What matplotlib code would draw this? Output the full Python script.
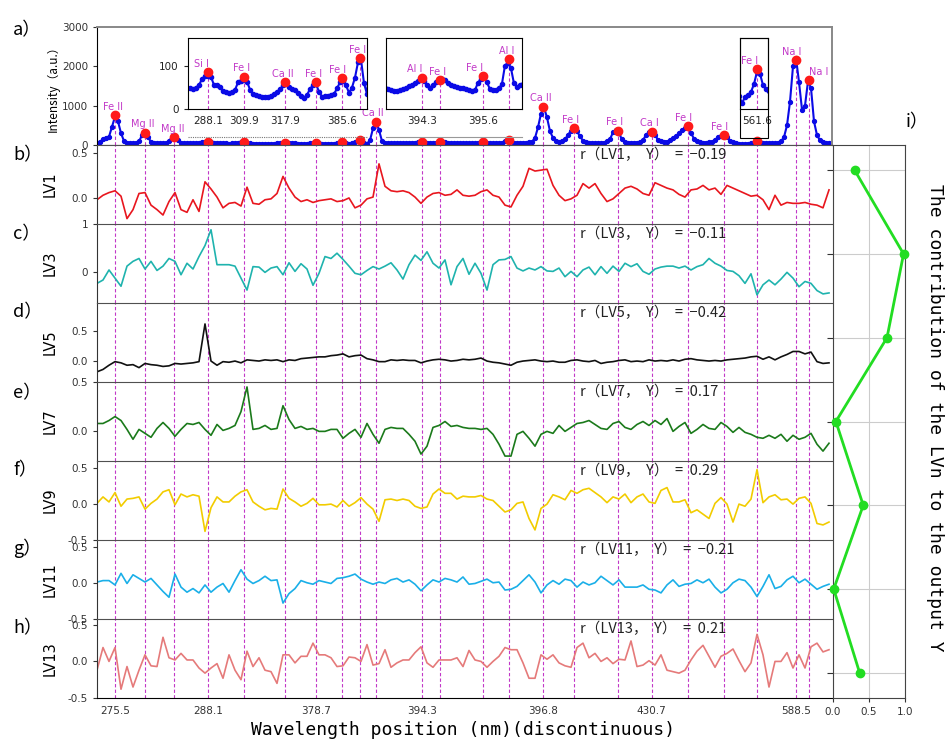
import numpy as np
import matplotlib
matplotlib.use("Agg")
import matplotlib.pyplot as plt
from matplotlib.lines import Line2D
from matplotlib.patches import Rectangle

# LIBS spectrum, one value per channel (x axis is a discontinuous wavelength index)
spectrum = [
    60, 80, 150, 190, 210, 470, 720, 600, 300, 100,
    60, 45, 42, 45, 90, 250, 330, 200, 80, 50,
    42, 40, 40, 45, 110, 190, 200, 120, 60, 45,
    50, 48, 46, 50, 56, 70, 76, 77, 74, 55,
    56, 52, 42, 39, 37, 40, 45, 62, 66, 67,
    63, 45, 36, 33, 30, 29, 29, 29, 31, 34,
    40, 46, 55, 60, 52, 47, 44, 37, 31, 26,
    33, 47, 55, 58, 40, 29, 30, 31, 33, 35,
    48, 62, 66, 55, 38, 50, 73, 108, 114, 60,
    35, 120, 420, 610, 380, 100, 50, 46, 44, 42,
    43, 44, 46, 49, 53, 56, 60, 64, 72, 64,
    56, 50, 55, 63, 67, 69, 68, 60, 56, 54,
    52, 50, 48, 46, 44, 42, 44, 61, 70, 74,
    62, 46, 45, 45, 48, 58, 100, 107, 95, 60,
    52, 56, 59, 60, 65, 85, 180, 450, 800, 950,
    700, 350, 180, 110, 85, 90, 140, 260, 360, 420,
    350, 220, 110, 70, 60, 55, 55, 55, 58, 60,
    90, 150, 320, 375, 300, 140, 80, 60, 58, 58,
    60, 80, 120, 260, 330, 335, 260, 130, 100, 88,
    85, 120, 170, 230, 300, 380, 440, 470, 300, 160,
    90, 70, 62, 60, 65, 80, 130, 200, 240, 250,
    200, 110, 70, 45, 30, 14, 29, 32, 40, 58,
    86, 82, 56, 46, 42, 40, 45, 60, 90, 200,
    500, 1100, 2000, 2210, 1600, 900, 1000, 1620, 1450, 600,
    250, 120, 70, 55, 45, 40,
]

# identified lines: channel, intensity, element
peak_pos = [6.0, 16.1, 25.7, 36.9, 48.9, 62.6, 73.0, 81.6, 87.7, 92.9, 108.3, 114.3,
            128.8, 137.4, 148.6, 159.1, 173.6, 184.9, 196.9, 209.0, 219.9, 233.0, 237.2]
peak_int = [760, 313, 195, 86, 75, 62, 63, 71, 117, 592, 73, 67,
            76, 115, 973, 424, 364, 339, 483, 254, 92, 2161, 1653]
peak_name = ["Fe II", "Mg II", "Mg II", "Si I", "Fe I", "Ca II", "Fe I", "Fe I", "Fe I",
             "Ca II", "Al I", "Fe I", "Fe I", "Al I", "Ca II", "Fe I", "Fe I", "Ca I",
             "Fe I", "Fe I", "Fe I", "Na I", "Na I"]
label_dx = [-1.5, -1.5, -1, -4.5, -1.5, -1.5, -2, -3, -2, -2, -5, -2,
            -6, -2, -1.5, -3, -2, -2, -3, -3, -5, -3, 7]

xtick_pos = [6.0, 36.9, 73.0, 108.3, 148.6, 184.9, 233.0]
xtick_lab = ["275.5", "288.1", "378.7", "394.3", "396.8", "430.7", "588.5"]

inset_ranges = [(30.2, 90.1), (96.2, 141.8), (214.3, 223.6)]
inset_ticks = [[36.9, 48.9, 62.6, 81.6], [108.3, 128.8], [219.9]]
inset_labels = [["288.1", "309.9", "317.9", "385.6"], ["394.3", "395.6"], ["561.6"]]

# latent variable loadings, every 2nd channel
lv1 = [-0.02, 0.03, 0.06, 0.08, 0.02, -0.23, -0.13, 0.05, 0.06, -0.08,
       -0.13, -0.19, -0.04, 0.06, -0.13, -0.16, -0.02, -0.15, 0.18, 0.10,
       0.01, -0.11, -0.06, -0.05, -0.09, 0.12, -0.06, -0.07, -0.02, -0.01,
       0.05, 0.24, 0.11, 0.01, -0.04, -0.02, -0.05, -0.03, -0.02, -0.01,
       -0.04, -0.03, 0.0, -0.11, -0.08, -0.01, 0.01, 0.38, 0.13, 0.08,
       0.07, 0.08, 0.06, 0.01, -0.06, 0.01, 0.05, 0.06, 0.03, 0.04,
       0.09, 0.03, 0.02, 0.03, 0.07, 0.09, 0.03, 0.01, -0.08, -0.10,
       0.03, 0.13, 0.33, 0.30, 0.31, 0.32, 0.14, 0.03, -0.03, -0.01,
       0.03, 0.16, 0.11, 0.16, 0.05, -0.04, -0.01, 0.05, 0.11, 0.13,
       0.10, 0.05, 0.03, 0.17, 0.14, 0.11, 0.09, 0.04, 0.01, 0.09,
       0.10, 0.14, 0.09, 0.11, 0.04, 0.14, 0.11, 0.08, 0.05, 0.02,
       0.03, -0.02, -0.13, 0.03, -0.08, -0.05, -0.06, -0.06, -0.05, -0.07,
       -0.08, -0.11, 0.09]
lv3 = [-0.24, -0.17, 0.04, -0.13, -0.30, 0.12, 0.22, 0.28, 0.06, 0.22,
       0.03, 0.12, 0.28, 0.22, -0.06, 0.18, 0.06, 0.32, 0.55, 0.88,
       0.15, 0.15, 0.15, 0.12, -0.13, -0.38, 0.11, 0.10, -0.01, 0.08,
       0.11, -0.06, 0.19, 0.01, 0.17, 0.06, -0.28, -0.03, 0.32, 0.28,
       0.39, 0.26, 0.12, -0.03, -0.06, 0.03, 0.11, 0.06, 0.12, 0.19,
       0.04, -0.15, 0.15, 0.35, 0.24, 0.42, 0.18, 0.08, 0.25, -0.27,
       0.11, 0.28, -0.05, 0.18, -0.03, -0.38, 0.15, 0.25, 0.26, 0.32,
       0.08, 0.02, 0.08, 0.04, 0.11, 0.02, 0.01, 0.08, -0.10, 0.01,
       -0.10, 0.04, 0.10, -0.06, 0.11, -0.03, 0.12, 0.01, 0.18, 0.11,
       0.17, 0.01, -0.05, 0.06, 0.10, 0.12, 0.12, 0.08, 0.12, 0.04,
       0.11, 0.15, 0.28, 0.18, 0.12, 0.03, 0.01, -0.08, -0.24, -0.04,
       -0.48, -0.27, -0.17, -0.27, -0.15, -0.01, -0.13, -0.31, -0.20, -0.24,
       -0.39, -0.46, -0.44]
lv5 = [-0.18, -0.14, -0.07, -0.01, -0.03, -0.07, -0.06, -0.11, -0.04, -0.06,
       -0.07, -0.09, -0.08, -0.04, -0.05, -0.04, -0.03, -0.01, 0.62, 0.0,
       -0.07, -0.01, -0.02, 0.0, -0.03, 0.02, 0.01, 0.0, 0.02, 0.01,
       0.02, -0.01, 0.02, 0.01, 0.04, 0.05, 0.06, 0.07, 0.07, 0.09,
       0.10, 0.12, 0.07, 0.09, 0.10, 0.04, 0.02, -0.01, -0.01, 0.02,
       0.01, 0.02, 0.01, 0.01, -0.03, 0.0, 0.02, 0.03, 0.02, 0.0,
       0.01, 0.03, 0.02, 0.03, 0.05, 0.0, -0.02, -0.03, -0.05, -0.07,
       -0.02, 0.0, 0.01, 0.02, 0.0, -0.01, 0.0, -0.02, -0.02, 0.01,
       0.02, 0.0, -0.01, 0.01, -0.04, -0.02, -0.01, 0.01, 0.02, -0.01,
       0.0, -0.01, 0.02, 0.0, 0.01, 0.0, 0.02, 0.0, 0.03, 0.04,
       0.02, 0.01, 0.0, 0.01, 0.0, 0.02, 0.03, 0.04, 0.05, 0.07,
       0.08, 0.03, 0.07, 0.02, 0.07, 0.11, 0.16, 0.16, 0.12, 0.15,
       -0.01, -0.04, -0.03]
lv7 = [0.08, 0.08, 0.11, 0.15, 0.11, 0.02, -0.08, 0.02, -0.02, -0.06,
       0.03, 0.09, 0.03, -0.05, 0.02, 0.08, 0.07, 0.09, 0.02, -0.04,
       0.07, 0.01, 0.03, 0.06, 0.20, 0.45, 0.02, 0.03, 0.06, 0.02,
       0.03, 0.26, 0.12, 0.03, 0.05, 0.02, 0.03, 0.0, 0.0, 0.02,
       0.02, -0.07, -0.02, 0.02, -0.06, 0.08, -0.03, -0.12, 0.02, 0.04,
       0.03, 0.03, -0.03, -0.10, -0.23, -0.15, 0.04, 0.06, 0.10, 0.05,
       0.06, 0.04, 0.03, 0.03, 0.02, 0.03, -0.03, -0.13, -0.25, -0.25,
       -0.03, 0.0, -0.07, -0.15, -0.03, 0.0, -0.02, 0.06, 0.0, 0.04,
       0.08, 0.09, 0.11, 0.07, 0.03, 0.02, 0.08, 0.10, 0.04, 0.02,
       0.07, 0.10, 0.06, 0.11, 0.07, 0.13, 0.0, 0.05, 0.09, -0.02,
       0.02, 0.07, 0.03, 0.02, 0.09, 0.05, -0.01, 0.04, -0.01, -0.03,
       -0.06, -0.07, -0.04, -0.07, -0.03, -0.10, -0.04, -0.08, -0.06, -0.02,
       -0.13, -0.20, -0.12]
lv9 = [0.01, 0.10, 0.03, 0.16, -0.03, 0.07, 0.08, 0.10, -0.07, 0.01,
       0.07, 0.17, 0.20, -0.01, 0.14, 0.10, 0.13, 0.11, -0.38, -0.05,
       0.10, 0.03, 0.03, 0.11, 0.17, 0.20, 0.03, -0.03, -0.08, -0.06,
       -0.07, 0.21, 0.08, 0.03, -0.03, 0.01, 0.08, -0.01, -0.01, 0.0,
       -0.04, 0.05, -0.03, 0.02, 0.09, 0.0, -0.07, -0.24, 0.06, 0.07,
       0.05, 0.07, 0.05, -0.03, -0.06, -0.04, 0.14, 0.21, 0.15, 0.15,
       0.07, 0.11, 0.10, 0.10, 0.12, 0.07, 0.05, -0.03, -0.11, -0.08,
       0.01, 0.03, -0.20, -0.36, -0.06, 0.0, 0.13, 0.10, 0.06, 0.19,
       0.15, 0.20, 0.22, 0.16, 0.10, 0.02, 0.10, 0.07, 0.14, 0.02,
       0.10, 0.14, 0.03, 0.01, 0.19, 0.23, 0.03, 0.03, 0.06, -0.12,
       -0.08, -0.14, -0.20, 0.01, 0.09, 0.0, -0.25, 0.0, -0.03, 0.07,
       0.48, 0.02, 0.10, 0.13, 0.06, 0.07, 0.0, 0.08, 0.10, 0.01,
       -0.27, -0.29, -0.25]
lv11 = [0.01, 0.03, 0.03, -0.03, 0.13, -0.01, 0.11, 0.06, 0.01, 0.06,
        -0.03, -0.12, -0.20, 0.12, -0.06, -0.13, -0.08, -0.14, -0.03, -0.13,
        -0.06, -0.01, -0.13, 0.03, 0.18, 0.05, -0.01, 0.03, 0.09, 0.03,
        0.04, -0.28, -0.15, -0.08, 0.03, 0.0, -0.02, 0.03, 0.01, -0.01,
        0.06, 0.07, 0.09, 0.12, 0.05, 0.01, -0.02, 0.01, -0.01, 0.04,
        0.06, 0.01, 0.04, -0.02, -0.11, -0.03, 0.04, 0.01, 0.06, 0.04,
        0.01, 0.08, -0.02, -0.01, 0.02, 0.05, 0.0, 0.01, -0.10, -0.09,
        -0.05, 0.03, 0.11, 0.01, -0.14, -0.03, 0.03, -0.02, 0.05, 0.03,
        -0.06, 0.01, -0.03, 0.0, 0.09, 0.03, -0.03, 0.04, -0.06, -0.06,
        -0.06, -0.03, -0.09, -0.10, -0.14, -0.03, 0.04, -0.05, -0.02, -0.01,
        0.04, 0.0, 0.05, -0.06, -0.14, -0.09, 0.0, 0.05, 0.03, -0.06,
        -0.19, -0.05, 0.11, -0.08, -0.05, 0.04, 0.09, 0.0, 0.05, -0.02,
        -0.09, -0.05, -0.02]
lv13 = [-0.12, 0.19, 0.0, 0.19, -0.38, -0.07, -0.35, -0.12, 0.09, -0.06,
        -0.07, 0.33, 0.05, 0.02, 0.11, 0.02, 0.02, -0.09, -0.16, -0.09,
        -0.03, -0.23, 0.09, -0.12, -0.25, 0.14, -0.07, 0.05, -0.12, -0.14,
        -0.30, 0.09, 0.09, -0.02, 0.07, 0.07, 0.25, 0.09, 0.09, 0.05,
        -0.07, -0.06, 0.06, 0.05, 0.0, 0.23, -0.05, -0.03, 0.16, -0.08,
        -0.02, 0.02, 0.02, 0.12, 0.20, -0.02, -0.08, 0.02, 0.02, 0.02,
        0.05, -0.07, 0.15, 0.02, 0.0, -0.08, 0.0, 0.07, 0.19, 0.16,
        0.16, -0.02, -0.23, -0.23, 0.09, 0.03, 0.09, -0.02, -0.06, -0.08,
        0.19, 0.25, 0.05, 0.11, 0.0, 0.05, -0.03, 0.03, 0.02, 0.28,
        -0.07, -0.05, 0.01, -0.05, 0.09, -0.12, -0.14, -0.16, -0.12, 0.02,
        0.14, 0.22, 0.07, -0.08, 0.07, 0.11, 0.17, 0.01, -0.14, -0.02,
        0.37, 0.09, -0.35, 0.0, 0.0, 0.12, -0.09, 0.09, -0.09, 0.20,
        0.25, 0.13, 0.16]

lv_names = ["LV1", "LV3", "LV5", "LV7", "LV9", "LV11", "LV13"]
lv_series = [lv1, lv3, lv5, lv7, lv9, lv11, lv13]
lv_r = [-0.19, -0.11, -0.42, 0.17, 0.29, -0.21, 0.21]
contribution = [0.30, 0.98, 0.75, 0.04, 0.42, 0.01, 0.37]

lv_colors = ["#E8161E", "#1FB3AE", "#111111", "#1B7A1B", "#F2CC00", "#1AAFE8", "#E57A7A"]
lv_ylims = [(-0.29, 0.59), (-0.65, 1.0), (-0.35, 0.97), (-0.3, 0.5),
            (-0.5, 0.6), (-0.5, 0.59), (-0.5, 0.58)]
lv_yticks = [[0, 0.5], [0, 1], [0, 0.5], [0, 0.5], [-0.5, 0, 0.5], [-0.5, 0, 0.5], [-0.5, 0, 0.5]]

CJK = ["Noto Sans CJK SC", "DejaVu Sans"]
MAG = "#C238C8"
W, H = 946, 742


def box(x0, y0, x1, y1):
    return [x0 / W, 1 - y1 / H, (x1 - x0) / W, (y1 - y0) / H]


fig = plt.figure(figsize=(9.46, 7.42), dpi=100)

# a) spectrum
ax_a = fig.add_axes(box(97, 27, 832, 145))
ch = np.arange(len(spectrum))
ax_a.vlines(peak_pos, 0, peak_int, colors=MAG, linestyles=(0, (3, 2)), lw=0.8, zorder=1)
ax_a.plot(ch, spectrum, color="#0A0AE6", lw=1.5, marker="o", ms=2.8, zorder=2)
ax_a.plot(peak_pos, peak_int, "o", color="#FF1A1A", ms=6, zorder=3)
ax_a.set_xlim(0, 245)
ax_a.set_ylim(0, 3000)
ax_a.set_yticks([0, 1000, 2000, 3000])
ax_a.set_xticks([])
ax_a.tick_params(axis="y", labelsize=7.5, length=3, colors="#333333")
for side in ["top", "right"]:
    ax_a.spines[side].set_color("#888888")
    ax_a.spines[side].set_linewidth(1.4)
ax_a.set_ylabel("Intensity（a.u.）", family=CJK, fontsize=8.5)
ax_a.yaxis.set_label_coords((60 - 97) / 735, 0.5)

in_inset = [any(lo <= p <= hi for lo, hi in inset_ranges) for p in peak_pos]
for p, v, name, dx, inside in zip(peak_pos, peak_int, peak_name, label_dx, in_inset):
    if not inside:
        ax_a.annotate(name, (p, v), xytext=(dx, 6), textcoords="offset points",
                      ha="center", va="center", fontsize=7, color=MAG)

# insets
inset_px = [(187.7, 367.3), (385.7, 522.3), (740.0, 767.7)]
for k, ((lo, hi), (px0, px1)) in enumerate(zip(inset_ranges, inset_px)):
    ax = fig.add_axes(box(px0, 38.3, px1, 109.3))
    ax.set_facecolor("white")
    sel = (ch >= lo - 1) & (ch <= hi + 1)
    ax.plot(ch[sel], np.array(spectrum)[sel], color="#0A0AE6", lw=1.5, marker="o", ms=3, zorder=2)
    idx = [i for i, p in enumerate(peak_pos) if lo <= p <= hi]
    pp = [peak_pos[i] for i in idx]
    pv = [peak_int[i] for i in idx]
    ax.vlines(pp, 0, pv, colors=MAG, linestyles=(0, (3, 2)), lw=0.8, zorder=1)
    ax.plot(pp, pv, "o", color="#FF1A1A", ms=6, zorder=3)
    for i in idx:
        ax.annotate(peak_name[i], (peak_pos[i], peak_int[i]), xytext=(label_dx[i], 6),
                    textcoords="offset points", ha="center", va="center", fontsize=7, color=MAG)
    ax.set_xlim(lo, hi)
    ax.set_ylim(0, 163)
    ax.set_xticks(inset_ticks[k])
    ax.set_xticklabels(inset_labels[k])
    ax.tick_params(axis="x", length=0, pad=5, labelsize=7.5, colors="#222222")
    if k == 0:
        ax.set_yticks([0, 100])
        ax.tick_params(axis="y", length=3, labelsize=7.5, colors="#222222")
    else:
        ax.set_yticks([])
    for s in ax.spines.values():
        s.set_linewidth(0.8)

fig.add_artist(Line2D([187.7 / W, 367.3 / W], [1 - 137 / H] * 2, color="#777777",
                      lw=0.8, ls=(0, (1, 1))))
fig.add_artist(Line2D([385.7 / W, 522.3 / W], [1 - 137 / H] * 2, color="#999999", lw=0.8))
fig.add_artist(Rectangle((740 / W, 1 - 138 / H), 27.7 / W, 99.7 / H, fill=False,
                         edgecolor="black", lw=0.8))

# b)-h) latent variables
tops = [145, 224, 303, 382, 461, 540, 619, 698]
for i, (name, vals) in enumerate(zip(lv_names, lv_series)):
    ax = fig.add_axes(box(97, tops[i], 832, tops[i + 1]))
    x = np.arange(len(vals)) * 2
    for p in peak_pos:
        ax.axvline(p, color=MAG, ls=(0, (3, 2)), lw=0.8, zorder=1)
    ax.plot(x, vals, color=lv_colors[i], lw=1.2, zorder=2)
    ax.set_xlim(0, 245)
    ax.set_ylim(*lv_ylims[i])
    ax.set_yticks(lv_yticks[i])
    if i == 1:
        ax.set_yticklabels(["0", "1"])
    else:
        ax.set_yticklabels(["%.1f" % t for t in lv_yticks[i]])
    ax.tick_params(axis="y", labelsize=7.5, length=3, colors="#333333")
    ax.spines["right"].set_visible(False)
    ax.spines["top"].set_color("#505050")
    ax.spines["left"].set_color("#333333")
    if i < 6:
        ax.spines["bottom"].set_visible(False)
        ax.set_xticks([])
    else:
        ax.set_xticks(xtick_pos)
        ax.set_xticklabels(xtick_lab)
        ax.tick_params(axis="x", length=0, pad=6, labelsize=7.5, colors="#333333")
    ax.set_ylabel(name, fontsize=10.5)
    ax.yaxis.set_label_coords((58 - 97) / 735, 0.5)
    label = ("r（%s，  Y）  =  %.2f" % (name, lv_r[i])).replace("-", "−")
    ax.text(0.657, 0.87, label, transform=ax.transAxes, family=CJK, fontsize=10.5,
            va="center", ha="left", color="#222222")

# i) contribution of each LV
ax_i = fig.add_axes(box(833, 145, 905, 698))
pos = np.arange(len(contribution))
ax_i.plot(contribution, pos, color="#22DD22", lw=2, marker="o", ms=6, clip_on=False, zorder=3)
ax_i.set_xlim(0, 1)
ax_i.set_ylim(6.3, -0.3)
ax_i.set_yticks(pos)
ax_i.set_yticklabels([])
ax_i.set_xticks([0, 0.5, 1.0])
ax_i.set_xticklabels(["0.0", "0.5", "1.0"])
ax_i.grid(color="#CCCCCC", lw=0.8)
ax_i.tick_params(axis="x", labelsize=7.5, length=3, colors="#333333")
ax_i.tick_params(axis="y", length=4, colors="#333333")
for s in ax_i.spines.values():
    s.set_color("#444444")

# panel letters and titles
letters = ["a）", "b）", "c）", "d）", "e）", "f）", "g）", "h）"]
letter_y = [30, 155, 234, 312, 393, 470, 548, 628]
for t, y in zip(letters, letter_y):
    fig.text(13 / W, 1 - y / H, t, family=CJK, fontsize=13, va="center", ha="left")
fig.text(906 / W, 1 - 122 / H, "i）", family=CJK, fontsize=13, va="center", ha="left")
fig.text(935 / W, 1 - 418 / H, "The contribution of the LVn to the output Y",
         rotation=270, family="DejaVu Sans Mono", fontsize=13, va="center", ha="center")
fig.text(463 / W, 1 - 730 / H, "Wavelength position (nm)(discontinuous)",
         family="DejaVu Sans Mono", fontsize=13, va="center", ha="center")

fig.savefig("out.png", dpi=100)
